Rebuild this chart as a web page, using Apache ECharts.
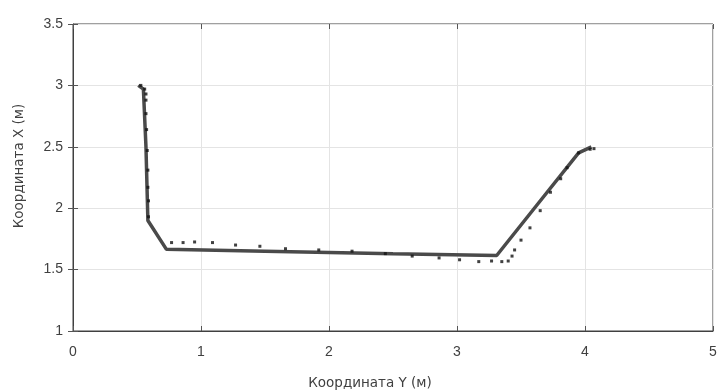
<!DOCTYPE html>
<html>
<head>
<meta charset="utf-8">
<script src="https://cdn.jsdelivr.net/npm/echarts@6/dist/echarts.min.js"></script>
<style>
    html, body { margin: 0; padding: 0; background: #fff; }
    #chart { width: 727px; height: 392px; }
</style>
</head>
<body>
<div id="chart"></div>
<script>
// траектория (Y — по горизонтали, X — по вертикали)
const pathY = [0.51, 0.55, 0.57, 0.585, 0.73, 1.5, 2.5, 3.31, 3.62, 3.95, 4.05];
const pathX = [3.0, 2.97, 2.5, 1.9, 1.665, 1.65, 1.63, 1.615, 2.02, 2.45, 2.5];

// измеренные точки
const dotY = [0.53, 0.56, 0.57, 0.57, 0.57, 0.575, 0.58, 0.585, 0.585, 0.59, 0.59,
    0.77, 0.86, 0.95, 1.09, 1.27, 1.46, 1.66, 1.92, 2.18, 2.44, 2.65, 2.86, 3.02, 3.17,
    3.27, 3.35, 3.40, 3.43, 3.45, 3.50, 3.57, 3.65, 3.73, 3.81, 3.86, 3.95, 4.04, 4.07];
const dotX = [3.0, 2.97, 2.93, 2.88, 2.77, 2.64, 2.47, 2.31, 2.17, 2.06, 1.93,
    1.72, 1.72, 1.725, 1.72, 1.70, 1.69, 1.67, 1.66, 1.65, 1.63, 1.61, 1.595, 1.58, 1.565,
    1.57, 1.565, 1.57, 1.61, 1.66, 1.74, 1.84, 1.98, 2.13, 2.24, 2.33, 2.45, 2.48, 2.485];

const xTicks = [0, 1, 2, 3, 4, 5];
const yTicks = [1, 1.5, 2, 2.5, 3, 3.5];
const xName = "Координата Y (м)";
const yName = "Координата X (м)";

const chart = echarts.init(document.getElementById("chart"));

const tickFont = { fontFamily: "Liberation Sans, Arial, sans-serif", fontSize: 14, color: "#404040" };
const nameFont = { fontFamily: "DejaVu Sans, sans-serif", fontSize: 13.5, fill: "#404040" };

const hiddenAxis = {
    axisLine: { show: false },
    axisTick: { show: true, inside: true, length: 5, lineStyle: { color: "#555" } },
    axisLabel: { show: false },
    splitLine: { show: false },
};

const option = {
    animation: false,
    grid: {
        left: 73,
        right: 14,
        top: 24,
        bottom: 61,
        show: true,
        borderColor: "#404040",
        borderWidth: 1,
    },
    xAxis: [
        {
            type: "value",
            min: 0,
            max: 5,
            interval: 1,
            axisLine: { show: true, lineStyle: { color: "#404040" } },
            axisTick: { show: true, inside: true, length: 5, lineStyle: { color: "#555" } },
            axisLabel: Object.assign({ margin: 14, formatter: v => xTicks.includes(v) ? String(v) : "" }, tickFont),
            splitLine: { show: true, lineStyle: { color: "#e4e4e4", width: 1 } },
        },
        Object.assign({ type: "value", min: 0, max: 5, interval: 1, position: "top" }, hiddenAxis),
    ],
    yAxis: [
        {
            type: "value",
            min: 1,
            max: 3.5,
            interval: 0.5,
            axisLine: { show: true, lineStyle: { color: "#404040" } },
            axisTick: { show: true, inside: true, length: 5, lineStyle: { color: "#555" } },
            axisLabel: Object.assign({ margin: 10, formatter: v => yTicks.includes(v) ? String(v) : "" }, tickFont),
            splitLine: { show: true, lineStyle: { color: "#e4e4e4", width: 1 } },
        },
        Object.assign({ type: "value", min: 1, max: 3.5, interval: 0.5, position: "right" }, hiddenAxis),
    ],
    graphic: [
        {
            type: "text",
            x: 370,
            y: 383,
            style: Object.assign({ text: xName, align: "center", verticalAlign: "middle" }, nameFont),
        },
        {
            type: "text",
            x: 19,
            y: 166,
            rotation: Math.PI / 2,
            style: Object.assign({ text: yName, align: "center", verticalAlign: "middle" }, nameFont),
        },
    ],
    series: [
        {
            name: "траектория",
            type: "line",
            data: pathY.map((y, i) => [y, pathX[i]]),
            showSymbol: false,
            lineStyle: { color: "#4a4a4a", width: 3.5 },
            z: 2,
        },
        {
            name: "точки",
            type: "scatter",
            data: dotY.map((y, i) => [y, dotX[i]]),
            symbol: "rect",
            symbolSize: 3,
            itemStyle: { color: "#111" },
            z: 3,
        },
    ],
};

chart.setOption(option);
</script>
</body>
</html>
